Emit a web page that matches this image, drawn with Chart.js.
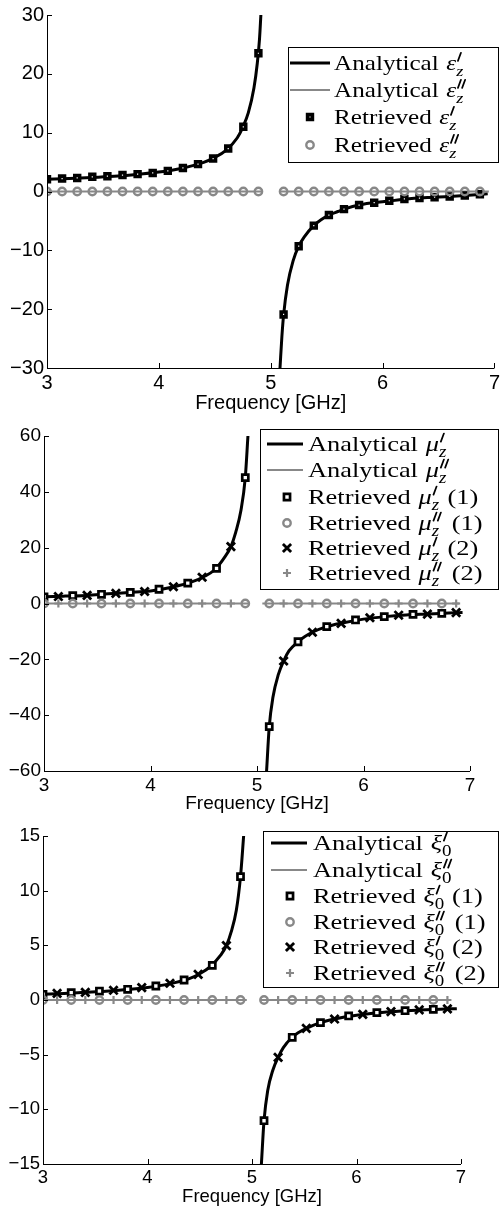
<!DOCTYPE html>
<html>
<head>
<meta charset="utf-8">
<script src="https://cdn.jsdelivr.net/npm/chart.js@4.4.1/dist/chart.umd.min.js"></script>
<style>
  html, body { margin: 0; padding: 0; background: #fff; }
  .panel { position: absolute; left: 0; width: 503px; }
</style>
</head>
<body>
<div class="panel" style="top:0;height:415px"><canvas id="c1"></canvas></div>
<div class="panel" style="top:415px;height:400px"><canvas id="c2"></canvas></div>
<div class="panel" style="top:815px;height:395px"><canvas id="c3"></canvas></div>
<script>
// ---- frequencies of the retrieved points [GHz]
const freqAll = [3.000, 3.135, 3.270, 3.405, 3.540, 3.675, 3.810, 3.945, 4.080, 4.215, 4.350, 4.485, 4.620, 4.755, 4.890,
                 5.115, 5.250, 5.385, 5.520, 5.655, 5.790, 5.925, 6.060, 6.195, 6.330, 6.465, 6.600, 6.735, 6.870];
const freqSet1 = [3.000, 3.270, 3.540, 3.810, 4.080, 4.350, 4.620, 4.890, 5.115, 5.385, 5.655, 5.925, 6.195, 6.465, 6.735];
const freqSet2 = [3.135, 3.405, 3.675, 3.945, 4.215, 4.485, 4.755, 5.250, 5.520, 5.790, 6.060, 6.330, 6.600, 6.870];

// ---- tick labels
const xTicks = [3, 4, 5, 6, 7];
const epsTicks = [-30, -20, -10, 0, 10, 20, 30];
const muTicks = [-60, -40, -20, 0, 20, 40, 60];
const xiTicks = [-15, -10, -5, 0, 5, 10, 15];

// ---- panel 1 : eps_z
const epsReRetr = [2.07, 2.2, 2.3, 2.5, 2.6, 2.8, 2.95, 3.15, 3.5, 4.0, 4.65, 5.6, 7.3, 11.0, 23.5,
                   -20.9, -9.3, -5.8, -4.0, -3.0, -2.3, -1.9, -1.57, -1.27, -1.12, -0.98, -0.84, -0.67, -0.47];
const epsImRetr = [0, 0, 0, 0, 0, 0, 0, 0, 0, 0, 0, 0, 0, 0, 0,
                   0, 0, 0, 0, 0, 0, 0, 0, 0, 0, 0, 0, 0, 0];
const epsAnaLeftF = [3.0, 3.2, 3.4, 3.6, 3.8, 4.0, 4.2, 4.4, 4.5, 4.6, 4.7, 4.75, 4.8, 4.85, 4.88, 4.9, 4.912];
const epsAnaLeftV = [2.07, 2.2, 2.37, 2.59, 2.89, 3.3, 3.92, 4.95, 5.8, 7.0, 9.1, 10.9, 13.4, 17.6, 21.8, 26.0, 30];
const epsAnaRightF = [5.083, 5.1, 5.115, 5.15, 5.2, 5.25, 5.3, 5.385, 5.45, 5.52, 5.6, 5.655, 5.8, 6.0, 6.2, 6.4, 6.6, 6.8, 6.94];
const epsAnaRightV = [-30, -24.6, -21.0, -15.9, -11.8, -9.3, -7.7, -5.8, -4.8, -4.0, -3.4, -3.0, -2.25, -1.75, -1.3, -1.03, -0.85, -0.6, -0.4];
const epsImAnaF = [3.0, 4.93, null, 5.08, 6.95];
const epsImAnaV = [0, 0, null, 0, 0];

// ---- panel 2 : mu_z
const muReRetr1 = [2.4, 2.8, 3.3, 4.0, 5.1, 7.3, 12.6, 45.1, -44.1, -13.7, -8.3, -5.9, -4.7, -3.9, -3.5];
const muReRetr2 = [2.5, 2.9, 3.6, 4.3, 6.0, 9.4, 20.4, -20.6, -10.3, -7.1, -5.1, -4.2, -3.8, -3.3];
const muImRetr1 = [0, 0, 0, 0, 0, 0, 0, 0, 0, 0, 0, 0, 0, 0, 0];
const muImRetr2 = [0, 0, 0, 0, 0, 0, 0, 0, 0, 0, 0, 0, 0, 0];
const muAnaLeftF = [3.0, 3.2, 3.4, 3.6, 3.8, 4.0, 4.2, 4.4, 4.5, 4.6, 4.7, 4.755, 4.8, 4.85, 4.89, 4.915];
const muAnaLeftV = [2.4, 2.65, 2.9, 3.45, 3.95, 4.5, 5.8, 7.9, 9.6, 12.0, 16.8, 20.4, 25.5, 33.5, 45.1, 60];
const muAnaRightF = [5.09, 5.115, 5.15, 5.2, 5.25, 5.3, 5.385, 5.45, 5.52, 5.655, 5.8, 6.0, 6.2, 6.4, 6.6, 6.8, 6.93];
const muAnaRightV = [-60, -44.1, -33.5, -25.5, -20.6, -17.0, -13.7, -11.8, -10.3, -8.3, -7.0, -5.6, -4.7, -4.1, -3.75, -3.4, -3.2];
const muImAnaF = [3.0, 4.92, null, 5.05, 6.9];
const muImAnaV = [0, 0, null, 0, 0];

// ---- panel 3 : xi_0
const xiReRetr1 = [0.52, 0.67, 0.82, 0.98, 1.28, 1.83, 3.17, 11.28, -11.04, -3.41, -2.07, -1.46, -1.16, -0.98, -0.85];
const xiReRetr2 = [0.61, 0.70, 0.89, 1.13, 1.53, 2.35, 4.97, -5.24, -2.59, -1.74, -1.31, -1.07, -0.91, -0.82];
const xiImRetr1 = [0, 0, 0, 0, 0, 0, 0, 0, 0, 0, 0, 0, 0, 0, 0];
const xiImRetr2 = [0, 0, 0, 0, 0, 0, 0, 0, 0, 0, 0, 0, 0, 0];
const xiAnaLeftF = [3.0, 3.2, 3.4, 3.6, 3.8, 4.0, 4.2, 4.4, 4.5, 4.6, 4.7, 4.755, 4.8, 4.85, 4.89, 4.92];
const xiAnaLeftV = [0.52, 0.6, 0.7, 0.8, 0.95, 1.15, 1.45, 1.95, 2.4, 3.05, 4.1, 4.97, 6.2, 8.2, 11.28, 15];
const xiAnaRightF = [5.09, 5.115, 5.15, 5.2, 5.25, 5.3, 5.385, 5.45, 5.52, 5.655, 5.8, 6.0, 6.2, 6.4, 6.6, 6.8, 6.96];
const xiAnaRightV = [-15, -11.04, -8.3, -6.4, -5.24, -4.35, -3.41, -2.95, -2.59, -2.07, -1.72, -1.4, -1.17, -1.02, -0.92, -0.84, -0.79];
const xiImAnaF = [3.0, 4.95, null, 5.08, 6.9];
const xiImAnaV = [0, 0, null, 0, 0];

// ---- styles
const GREY = '#888888';
const sqSmall = { style: 'rect', r: 3.4, bw: 3.6, color: '#000', fill: '#fff' };
const sqBig = { style: 'rect', r: 4.3, bw: 2.7, color: '#000', fill: '#fff' };
const circ = { style: 'circle', r: 3.7, bw: 2.4, color: GREY, fill: 'rgba(0,0,0,0)' };
const xMark = { style: 'crossRot', r: 5.8, bw: 2.8, color: '#000' };
const plusMark = { style: 'cross', r: 4, bw: 2.2, color: GREY };

function pts(f, v) {
  return f.map((x, i) => (x === null ? { x: (f[i - 1] + f[i + 1]) / 2, y: null } : { x: x, y: v[i] }));
}

function lineSet(data, color, width, order) {
  return { data: data, borderColor: color, borderWidth: width, pointRadius: 0, showLine: true,
           cubicInterpolationMode: 'monotone', spanGaps: false, order: order };
}

function markerSet(data, st, order) {
  return { data: data, showLine: false, pointStyle: st.style, pointRadius: st.r, pointBorderWidth: st.bw,
           pointBorderColor: st.color, pointBackgroundColor: st.fill || 'rgba(0,0,0,0)', order: order };
}

function drawMarker(ctx, st, x, y) {
  ctx.save();
  ctx.lineWidth = st.bw;
  ctx.strokeStyle = st.color;
  ctx.beginPath();
  if (st.style === 'rect') {
    const h = st.r * Math.SQRT1_2;
    ctx.rect(x - h, y - h, 2 * h, 2 * h);
    ctx.fillStyle = st.fill;
    ctx.fill();
  } else if (st.style === 'circle') {
    ctx.arc(x, y, st.r, 0, Math.PI * 2);
  } else if (st.style === 'crossRot') {
    const d = st.r * Math.SQRT1_2;
    ctx.moveTo(x - d, y - d); ctx.lineTo(x + d, y + d);
    ctx.moveTo(x - d, y + d); ctx.lineTo(x + d, y - d);
  } else {
    ctx.moveTo(x - st.r, y); ctx.lineTo(x + st.r, y);
    ctx.moveTo(x, y - st.r); ctx.lineTo(x, y + st.r);
  }
  ctx.stroke();
  ctx.restore();
}

// label like "Analytical ε′z (1)": primes are drawn as slanted strokes, subscript underneath
function drawLabel(ctx, x, y, e, size, stretch) {
  const serif = '"Liberation Serif", "DejaVu Serif", serif';
  ctx.save();
  ctx.translate(x, y);
  ctx.scale(stretch, 1);
  ctx.fillStyle = '#000';
  ctx.strokeStyle = '#000';
  ctx.textBaseline = 'alphabetic';
  ctx.textAlign = 'left';
  let cx = 0;
  ctx.font = size + 'px ' + serif;
  ctx.fillText(e.word, cx, 0);
  cx += ctx.measureText(e.word).width + 1;
  ctx.font = 'italic ' + size + 'px ' + serif;
  ctx.fillText(e.sym, cx, 0);
  cx += ctx.measureText(e.sym).width;
  // primes
  ctx.lineWidth = 1.5;
  ctx.lineCap = 'round';
  for (let k = 0; k < e.primes; k++) {
    const px = cx + 1.5 + k * 3.6;
    ctx.beginPath();
    ctx.moveTo(px, -size * 0.42);
    ctx.lineTo(px + 2.6, -size * 0.80);
    ctx.stroke();
  }
  const w1 = 3 + e.primes * 3.6;
  const s = size * 0.72;
  ctx.font = (e.subIt ? 'italic ' : '') + s + 'px ' + serif;
  ctx.fillText(e.sub, cx, size * 0.26);
  const w2 = ctx.measureText(e.sub).width;
  cx += Math.max(w1, w2) + 1;
  if (e.tail) {
    ctx.font = size + 'px ' + serif;
    ctx.fillText(e.tail, cx, 0);
  }
  ctx.restore();
}

function legendPlugin(spec) {
  return {
    id: 'mathLegend',
    afterDraw(chart) {
      const ctx = chart.ctx;
      const b = spec.box;
      ctx.save();
      ctx.fillStyle = '#fff';
      ctx.fillRect(b[0], b[1], b[2] - b[0], b[3] - b[1]);
      ctx.strokeStyle = '#000';
      ctx.lineWidth = 1;
      ctx.strokeRect(b[0] + 0.5, b[1] + 0.5, b[2] - b[0], b[3] - b[1]);
      spec.items.forEach((e, i) => {
        const y = spec.rowY[i];
        if (e.line) {
          ctx.beginPath();
          ctx.strokeStyle = e.line.color;
          ctx.lineWidth = e.line.width;
          ctx.moveTo(spec.sx0, y); ctx.lineTo(spec.sx1, y);
          ctx.stroke();
        } else {
          drawMarker(ctx, e.marker, spec.sxm, y);
        }
        drawLabel(ctx, spec.tx, y + spec.dy, e, spec.size, spec.stretch);
      });
      ctx.restore();
    }
  };
}

const axesPlugin = {
  id: 'matlabAxes',
  afterDraw(chart) {
    const { ctx, chartArea: a, scales: { x, y } } = chart;
    ctx.save();
    ctx.strokeStyle = '#000';
    ctx.lineWidth = 1;
    ctx.beginPath();
    ctx.moveTo(a.left + 0.5, a.top);
    ctx.lineTo(a.left + 0.5, a.bottom + 0.5);
    ctx.lineTo(a.right, a.bottom + 0.5);
    x.ticks.forEach(t => {
      const px = Math.round(x.getPixelForValue(t.value)) + 0.5;
      ctx.moveTo(px, a.bottom); ctx.lineTo(px, a.bottom - 5);
    });
    y.ticks.forEach(t => {
      const py = Math.round(y.getPixelForValue(t.value)) + 0.5;
      ctx.moveTo(a.left, py); ctx.lineTo(a.left + 5, py);
    });
    ctx.stroke();
    ctx.restore();
  }
};

function makePanel(id, p) {
  const sans = '"Liberation Sans", Arial, sans-serif';
  new Chart(document.getElementById(id), {
    type: 'line',
    data: { datasets: p.datasets },
    options: {
      responsive: true,
      maintainAspectRatio: false,
      animation: false,
      layout: { padding: p.pad },
      plugins: { legend: { display: false }, tooltip: { enabled: false } },
      scales: {
        x: {
          type: 'linear', min: 3, max: 7,
          afterBuildTicks: s => { s.ticks = xTicks.map(v => ({ value: v })); },
          afterFit: s => { s.height = p.xh; },
          grid: { display: false, drawTicks: false },
          border: { display: false },
          ticks: { color: '#000', padding: 3, maxRotation: 0, font: { family: sans, size: p.fs } },
          title: { display: true, text: 'Frequency [GHz]', color: '#000', padding: { top: 0, bottom: p.tpb },
                   font: { family: sans, size: p.fs } }
        },
        y: {
          type: 'linear', min: p.yt[0], max: p.yt[p.yt.length - 1],
          afterBuildTicks: s => { s.ticks = p.yt.map(v => ({ value: v })); },
          afterFit: s => { s.width = p.yw; },
          grid: { display: false, drawTicks: false },
          border: { display: false },
          ticks: { color: '#000', padding: 3, font: { family: sans, size: p.fs },
                   callback: v => String(v).replace('-', '\u2212') }
        }
      }
    },
    plugins: [axesPlugin, legendPlugin(p.legend)]
  });
}

// ---- panel 1
makePanel('c1', {
  pad: { top: 12, right: 4, left: 0, bottom: 0 }, yw: 47, xh: 47, fs: 20, tpb: 0, yt: epsTicks,
  datasets: [
    markerSet(pts(freqAll, epsImRetr), circ, 1),
    markerSet(pts(freqAll, epsReRetr), sqSmall, 2),
    lineSet(pts(epsImAnaF, epsImAnaV), GREY, 2.2, 3),
    lineSet(pts(epsAnaLeftF, epsAnaLeftV), '#000', 3, 4),
    lineSet(pts(epsAnaRightF, epsAnaRightV), '#000', 3, 4)
  ],
  legend: {
    box: [288, 47, 498, 162], rowY: [63, 90, 117, 145], sx0: 290, sx1: 330, sxm: 310, tx: 334, dy: 7,
    size: 21.5, stretch: 1.17,
    items: [
      { line: { color: '#000', width: 3 }, word: 'Analytical ', sym: 'ε', primes: 1, sub: 'z', subIt: true },
      { line: { color: GREY, width: 2.2 }, word: 'Analytical ', sym: 'ε', primes: 2, sub: 'z', subIt: true },
      { marker: sqSmall, word: 'Retrieved ', sym: 'ε', primes: 1, sub: 'z', subIt: true },
      { marker: circ, word: 'Retrieved ', sym: 'ε', primes: 2, sub: 'z', subIt: true }
    ]
  }
});

// ---- panel 2
makePanel('c2', {
  pad: { top: 21, right: 33, left: 0, bottom: 0 }, yw: 44, xh: 44, fs: 19, tpb: 0, yt: muTicks,
  datasets: [
    markerSet(pts(freqSet2, muImRetr2), plusMark, 1),
    markerSet(pts(freqSet2, muReRetr2), xMark, 2),
    markerSet(pts(freqSet1, muImRetr1), circ, 3),
    markerSet(pts(freqSet1, muReRetr1), sqBig, 4),
    lineSet(pts(muImAnaF, muImAnaV), GREY, 2.2, 5),
    lineSet(pts(muAnaLeftF, muAnaLeftV), '#000', 3, 6),
    lineSet(pts(muAnaRightF, muAnaRightV), '#000', 3, 6)
  ],
  legend: {
    box: [260, 14, 498, 174], rowY: [29, 55, 82, 108, 133, 158], sx0: 267, sx1: 303, sxm: 287, tx: 308, dy: 7,
    size: 22, stretch: 1.2,
    items: [
      { line: { color: '#000', width: 3 }, word: 'Analytical ', sym: 'μ', primes: 1, sub: 'z', subIt: true },
      { line: { color: GREY, width: 2.2 }, word: 'Analytical ', sym: 'μ', primes: 2, sub: 'z', subIt: true },
      { marker: sqBig, word: 'Retrieved ', sym: 'μ', primes: 1, sub: 'z', subIt: true, tail: ' (1)' },
      { marker: circ, word: 'Retrieved ', sym: 'μ', primes: 2, sub: 'z', subIt: true, tail: ' (1)' },
      { marker: xMark, word: 'Retrieved ', sym: 'μ', primes: 1, sub: 'z', subIt: true, tail: ' (2)' },
      { marker: plusMark, word: 'Retrieved ', sym: 'μ', primes: 2, sub: 'z', subIt: true, tail: ' (2)' }
    ]
  }
});

// ---- panel 3
makePanel('c3', {
  pad: { top: 21, right: 42, left: 0, bottom: 0 }, yw: 43, xh: 46, fs: 18.5, tpb: 2, yt: xiTicks,
  datasets: [
    markerSet(pts(freqSet2, xiImRetr2), plusMark, 1),
    markerSet(pts(freqSet2, xiReRetr2), xMark, 2),
    markerSet(pts(freqSet1, xiImRetr1), circ, 3),
    markerSet(pts(freqSet1, xiReRetr1), sqBig, 4),
    lineSet(pts(xiImAnaF, xiImAnaV), GREY, 2.2, 5),
    lineSet(pts(xiAnaLeftF, xiAnaLeftV), '#000', 3, 6),
    lineSet(pts(xiAnaRightF, xiAnaRightV), '#000', 3, 6)
  ],
  legend: {
    box: [263, 16, 498, 172], rowY: [28, 55, 81, 107, 132, 158], sx0: 271, sx1: 307, sxm: 290, tx: 313, dy: 7,
    size: 22, stretch: 1.2,
    items: [
      { line: { color: '#000', width: 3 }, word: 'Analytical ', sym: 'ξ', primes: 1, sub: '0', subIt: false },
      { line: { color: GREY, width: 2.2 }, word: 'Analytical ', sym: 'ξ', primes: 2, sub: '0', subIt: false },
      { marker: sqBig, word: 'Retrieved ', sym: 'ξ', primes: 1, sub: '0', subIt: false, tail: ' (1)' },
      { marker: circ, word: 'Retrieved ', sym: 'ξ', primes: 2, sub: '0', subIt: false, tail: ' (1)' },
      { marker: xMark, word: 'Retrieved ', sym: 'ξ', primes: 1, sub: '0', subIt: false, tail: ' (2)' },
      { marker: plusMark, word: 'Retrieved ', sym: 'ξ', primes: 2, sub: '0', subIt: false, tail: ' (2)' }
    ]
  }
});
</script>
</body>
</html>
